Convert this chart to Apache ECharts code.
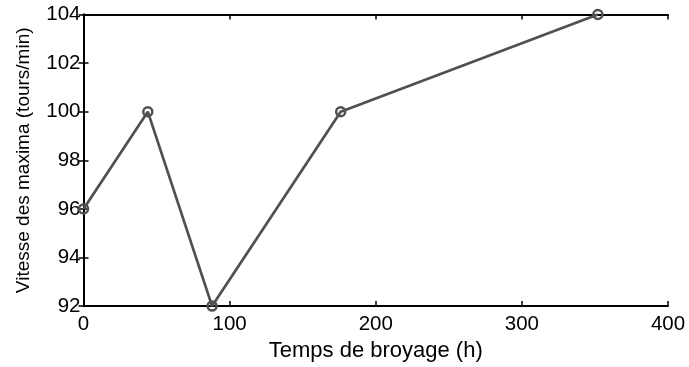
<!DOCTYPE html>
<html>
<head>
<meta charset="utf-8">
<script src="https://cdn.jsdelivr.net/npm/echarts@6/dist/echarts.min.js"></script>
<style>
  html, body { margin: 0; padding: 0; background: #fff; }
  #chart { width: 689px; height: 367px; }
</style>
</head>
<body>
<div id="chart"></div>
<script>
// Grinding time (h) and speed of the maxima (rpm)
const grindingHours = [0, 44, 88, 176, 352];
const maxSpeed = [96, 100, 92, 100, 104];
const xTicks = [0, 100, 200, 300, 400];
const yTicks = [92, 94, 96, 98, 100, 102, 104];

const points = grindingHours.map((h, i) => [h, maxSpeed[i]]);
const font = 'Liberation Sans, Arial, sans-serif';

const axisLine = { show: true, lineStyle: { color: '#000', width: 2 } };
const tickIn = { show: true, inside: true, length: 5, lineStyle: { color: '#000', width: 1.5 } };

const chart = echarts.init(document.getElementById('chart'), null, { renderer: 'canvas' });
chart.setOption({
  animation: false,
  backgroundColor: '#fff',
  grid: { left: 83.5, right: 21, top: 14.5, bottom: 60.5, containLabel: false },
  xAxis: [
    {
      type: 'value', min: xTicks[0], max: xTicks[xTicks.length - 1], interval: 100,
      name: 'Temps de broyage (h)', nameLocation: 'middle', nameGap: 32,
      nameTextStyle: { fontFamily: font, fontSize: 22, color: '#000' },
      axisLine, axisTick: tickIn, splitLine: { show: false },
      axisLabel: { fontFamily: font, fontSize: 20.5, color: '#000', margin: 8 }
    },
    {
      type: 'value', position: 'top', min: xTicks[0], max: xTicks[xTicks.length - 1], interval: 100,
      axisLine, axisTick: tickIn, splitLine: { show: false }, axisLabel: { show: false }
    }
  ],
  yAxis: [
    {
      type: 'value', min: yTicks[0], max: yTicks[yTicks.length - 1], interval: 2,
      name: 'Vitesse des maxima (tours/min)', nameLocation: 'middle', nameGap: 50,
      nameTextStyle: { fontFamily: font, fontSize: 19, color: '#000' },
      axisLine, axisTick: tickIn, splitLine: { show: false },
      axisLabel: { fontFamily: font, fontSize: 20.5, color: '#000', margin: 3 }
    },
    {
      type: 'value', position: 'right', min: yTicks[0], max: yTicks[yTicks.length - 1], interval: 2,
      axisLine, axisTick: tickIn, splitLine: { show: false }, axisLabel: { show: false }
    }
  ],
  series: [{
    type: 'line',
    data: points,
    xAxisIndex: 0, yAxisIndex: 0,
    lineStyle: { color: '#505050', width: 2.7 },
    symbol: 'circle', symbolSize: 9,
    itemStyle: { color: 'rgba(255,255,255,0)', borderColor: '#505050', borderWidth: 2.5 },
    clip: false, z: 1
  }]
});
</script>
</body>
</html>
